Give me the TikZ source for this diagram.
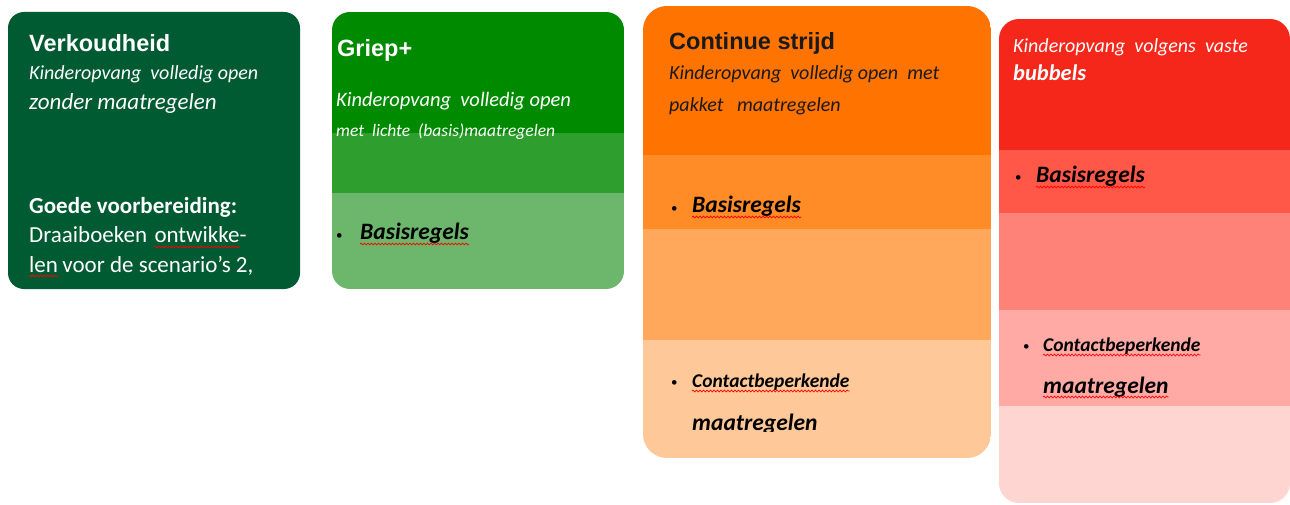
\documentclass[tikz,border=0pt]{standalone}
\usepackage{fontspec}
\setmainfont{Carlito}
\newfontfamily\titlefont{Liberation Sans}
\usepackage{tikz}
\usetikzlibrary{calc,decorations.pathmorphing}

\definecolor{verkGreen}{RGB}{0,90,50}
\definecolor{griepA}{RGB}{0,138,0}
\definecolor{griepB}{RGB}{46,158,46}
\definecolor{griepC}{RGB}{109,183,109}
\definecolor{strijdA}{RGB}{255,115,0}
\definecolor{strijdB}{RGB}{255,140,38}
\definecolor{strijdC}{RGB}{255,168,92}
\definecolor{strijdD}{RGB}{255,200,152}
\definecolor{bubA}{RGB}{245,38,26}
\definecolor{bubB}{RGB}{255,88,72}
\definecolor{bubC}{RGB}{255,130,120}
\definecolor{bubD}{RGB}{255,170,165}
\definecolor{bubE}{RGB}{255,213,210}
\definecolor{darkText}{RGB}{26,26,26}

\tikzset{
  txt/.style={inner sep=0pt, anchor=base west},
  cardtitle/.style={txt, font=\titlefont\bfseries\fontsize{23.5}{28}\selectfont},
  subline/.style={txt, font=\itshape\fontsize{20}{24}\selectfont},
  bulletitem/.style={txt, font=\bfseries\itshape\fontsize{23.5}{28}\selectfont},
  bulletdot/.style={txt, font=\fontsize{13}{16}\selectfont},
  squiggle/.style={red, line width=0.7pt, decorate,
    decoration={snake, segment length=3.5pt, amplitude=0.9pt}},
}

\begin{document}
\begin{tikzpicture}[x=1pt,y=-1pt]
  \useasboundingbox (0,0) rectangle (1290,505);

  %% Card backgrounds
  \fill[verkGreen, rounded corners=16] (8,12) rectangle (300,289);
  \begin{scope}
    \clip[rounded corners=18] (332,12) rectangle (624,289);
    \foreach \ya/\yb/\col in {12/133/griepA,133/193/griepB,193/289/griepC}
      \fill[\col] (332,\ya) rectangle (624,\yb);
  \end{scope}
  \begin{scope}
    \clip[rounded corners=24] (643,6) rectangle (991,458);
    \foreach \ya/\yb/\col in {6/155/strijdA,155/229/strijdB,229/340/strijdC,340/458/strijdD}
      \fill[\col] (643,\ya) rectangle (991,\yb);
  \end{scope}
  \begin{scope}
    \clip[rounded corners=20] (999,19) rectangle (1290,503);
    \foreach \ya/\yb/\col in {19/150/bubA,150/213/bubB,213/310/bubC,310/406/bubD,406/503/bubE}
      \fill[\col] (999,\ya) rectangle (1290,\yb);
  \end{scope}

  %% Verkoudheid
  \node[cardtitle, white] (verk) at (29,52) {Verkoudheid};
  \node[subline, white] (verkSub) at (29,80) {Kinderopvang\ \ volledig open};
  \node[txt, white, font=\itshape\fontsize{23}{28}\selectfont] (verkZonder) at (29,110) {zonder maatregelen};
  \node[txt, white, font=\bfseries\fontsize{23}{28}\selectfont] (goede) at (29,214) {Goede voorbereiding:};
  \node[txt, white, font=\fontsize{23}{28}\selectfont] (draai) at (29,243) {Draaiboeken};
  \node[txt, white, font=\fontsize{23}{28}\selectfont] (ontw) at ($(draai.base east)+(7,0)$) {ontwikke-};
  \node[txt, white, font=\fontsize{23}{28}\selectfont] (len) at (29,272) {len};
  \node[txt, white, font=\fontsize{23}{28}\selectfont] (voor) at ($(len.base east)+(4,0)$) {voor de scenario’s 2,};
  \draw[squiggle] ($(ontw.base west)+(0,4)$) -- ($(ontw.base east)+(-7,4)$);
  \draw[squiggle] ($(len.base west)+(0,4)$) -- ($(len.base east)+(0,4)$);

  %% Griep+
  \node[cardtitle, white] (griep) at (337,57) {Griep+};
  \node[subline, white, font=\itshape\fontsize{20.5}{24}\selectfont] (griepSub) at (336,107) {Kinderopvang\ \ volledig open};
  \node[subline, white, font=\itshape\fontsize{17.5}{21}\selectfont] (griepLicht) at (336,137) {met\ \ lichte\ \ (basis)maatregelen};
  \node[bulletdot] (griepDot) at (336,239) {•};
  \node[bulletitem] (griepBasis) at (360,240) {Basisregels};
  \draw[squiggle] ($(griepBasis.base west)+(0,4)$) -- ($(griepBasis.base east)+(0,4)$);

  %% Continue strijd
  \node[cardtitle, darkText] (strijd) at (669,50) {Continue strijd};
  \node[subline, darkText] (strijdSub) at (669,80) {Kinderopvang\ \ volledig open\ \ met};
  \node[subline, darkText] (strijdPakket) at (669,112) {pakket\ \ \ maatregelen};
  \node[bulletdot] (strijdDotA) at (671,212) {•};
  \node[bulletitem] (strijdBasis) at (692,213) {Basisregels};
  \draw[squiggle] ($(strijdBasis.base west)+(0,4)$) -- ($(strijdBasis.base east)+(0,4)$);
  \node[bulletdot] (strijdDotB) at (671,386) {•};
  \node[bulletitem, font=\bfseries\itshape\fontsize{19.5}{24}\selectfont] (strijdContact) at (692,387) {Contactbeperkende};
  \draw[squiggle] ($(strijdContact.base west)+(0,4)$) -- ($(strijdContact.base east)+(0,4)$);
  \begin{scope}
    \clip (643,400) rectangle (991,431);
    \node[bulletitem] (strijdMaat) at (692,430) {maatregelen};
  \end{scope}

  %% Bubbels
  \node[subline, white] (bubSub) at (1013,53) {Kinderopvang\ \ volgens\ \ vaste};
  \node[txt, white, font=\bfseries\itshape\fontsize{22.5}{28}\selectfont] (bubbels) at (1013,81) {bubbels};
  \node[bulletdot] (bubDotA) at (1015,182) {•};
  \node[bulletitem] (bubBasis) at (1036,183) {Basisregels};
  \draw[squiggle] ($(bubBasis.base west)+(0,4)$) -- ($(bubBasis.base east)+(0,4)$);
  \node[bulletdot] (bubDotB) at (1023,350) {•};
  \node[bulletitem, font=\bfseries\itshape\fontsize{19.5}{24}\selectfont] (bubContact) at (1043,351) {Contactbeperkende};
  \draw[squiggle] ($(bubContact.base west)+(0,4)$) -- ($(bubContact.base east)+(0,4)$);
  \node[bulletitem] (bubMaat) at (1043,393) {maatregelen};
  \draw[squiggle] ($(bubMaat.base west)+(0,4)$) -- ($(bubMaat.base east)+(0,4)$);
\end{tikzpicture}
\end{document}
